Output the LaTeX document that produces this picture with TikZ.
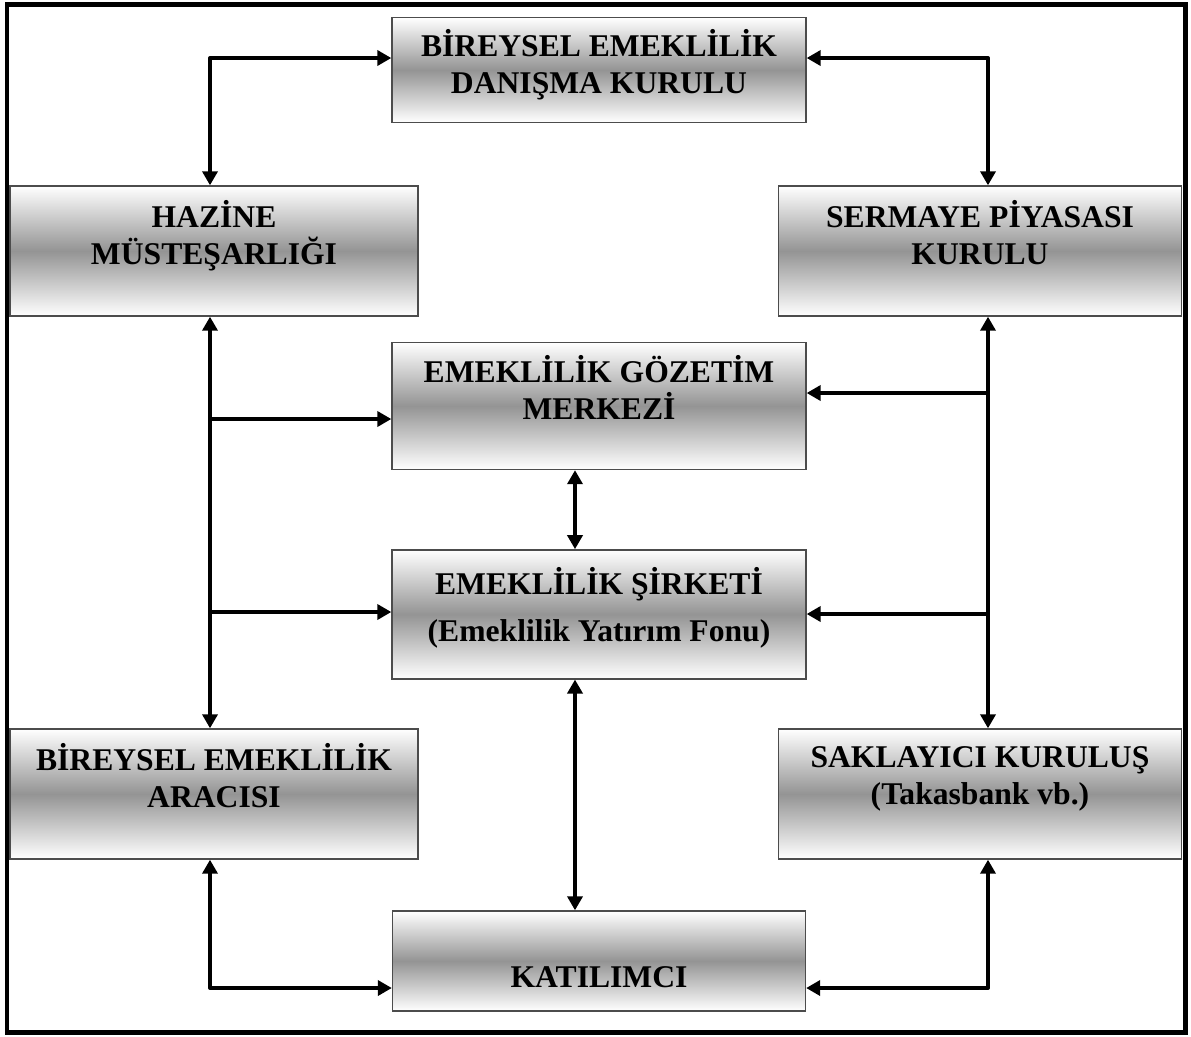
\documentclass[tikz,border=0pt]{standalone}
\usepackage{fontspec}
\setmainfont{Liberation Serif}
\usetikzlibrary{arrows.meta, positioning}

\tikzset{
	box/.style={draw=black!70, line width=0.8pt, top color=white, bottom color=white, middle color=black!42,
		align=center, inner sep=0pt, font=\bfseries\fontsize{18}{21}\selectfont},
	raisetext/.style={text depth=#1},
	droptext/.style={text height=#1},
	tip/.tip={Triangle[length=0.28cm, width=0.3cm]},
	link/.style={line width=2.3pt, line join=round, -tip},
	both/.style={link, tip-tip},
}

\begin{document}
\begin{tikzpicture}[x=0.02cm, y=-0.02cm]
	\useasboundingbox (0,0) rectangle (1191,1036);
	\draw[line width=0.1cm] (7,4) rectangle (1185,1032);

	\node[box, minimum width=8.28cm, minimum height=2.1cm, raisetext=0.35cm]	(danisma)	at (599,70)		{B\.IREYSEL EMEKL\.IL\.IK\\DANIŞMA KURULU};
	\node[box, minimum width=8.16cm, minimum height=2.6cm, raisetext=0.75cm]	(hazine)	at (214,251)	{HAZ\.INE\\MÜSTEŞARLIĞI};
	\node[box, minimum width=8.06cm, minimum height=2.6cm, raisetext=0.75cm]	(spk)		at (980,251)	{SERMAYE P\.IYASASI\\KURULU};
	\node[box, minimum width=8.28cm, minimum height=2.54cm, raisetext=0.75cm]	(gozetim)	at (599,406)	{EMEKL\.IL\.IK GÖZET\.IM\\MERKEZ\.I};
	\node[box, minimum width=8.28cm, minimum height=2.58cm, raisetext=0.4cm]	(sirket)	[below=1.58cm of gozetim]	{EMEKL\.IL\.IK Ş\.IRKET\.I\\[6pt](Emeklilik Yatırım Fonu)};
	\node[box, minimum width=8.16cm, minimum height=2.6cm, raisetext=0.75cm]	(araci)		at (214,794)	{B\.IREYSEL EMEKL\.IL\.IK\\ARACISI};
	\node[box, minimum width=8.06cm, minimum height=2.6cm, raisetext=0.75cm]	(saklayici)	at (980,794)	{SAKLAYICI KURULUŞ\\(Takasbank vb.)};
	\node[box, minimum width=8.26cm, minimum height=2.0cm, droptext=1.05cm]	(katilimci)	at (599,961)	{KATILIMCI};

	\coordinate (lbus)		at (210,0);
	\coordinate (rbus)		at (988,0);
	\coordinate (mbus)		at (575,0);
	\coordinate (toprow)	at (0,58);
	\coordinate (botrow)	at (0,988);
	\coordinate (gleft)		at (0,419);
	\coordinate (gright)	at (0,393);
	\coordinate (sleft)		at (0,612);
	\coordinate (sright)	at (0,614);

	\draw[both] (hazine.north -| lbus)		|- (danisma.west |- toprow);
	\draw[both] (spk.north -| rbus)			|- (danisma.east |- toprow);
	\draw[both] (hazine.south -| lbus)		-- (araci.north -| lbus);
	\draw[both] (spk.south -| rbus)			-- (saklayici.north -| rbus);
	\draw[link] (lbus |- gleft)				-- (gozetim.west |- gleft);
	\draw[link] (lbus |- sleft)				-- (sirket.west |- sleft);
	\draw[link] (rbus |- gright)			-- (gozetim.east |- gright);
	\draw[link] (rbus |- sright)			-- (sirket.east |- sright);
	\draw[both] (gozetim.south -| mbus)		-- (sirket.north -| mbus);
	\draw[both] (sirket.south -| mbus)		-- (katilimci.north -| mbus);
	\draw[both] (araci.south -| lbus)		|- (katilimci.west |- botrow);
	\draw[both] (saklayici.south -| rbus)	|- (katilimci.east |- botrow);
\end{tikzpicture}
\end{document}
